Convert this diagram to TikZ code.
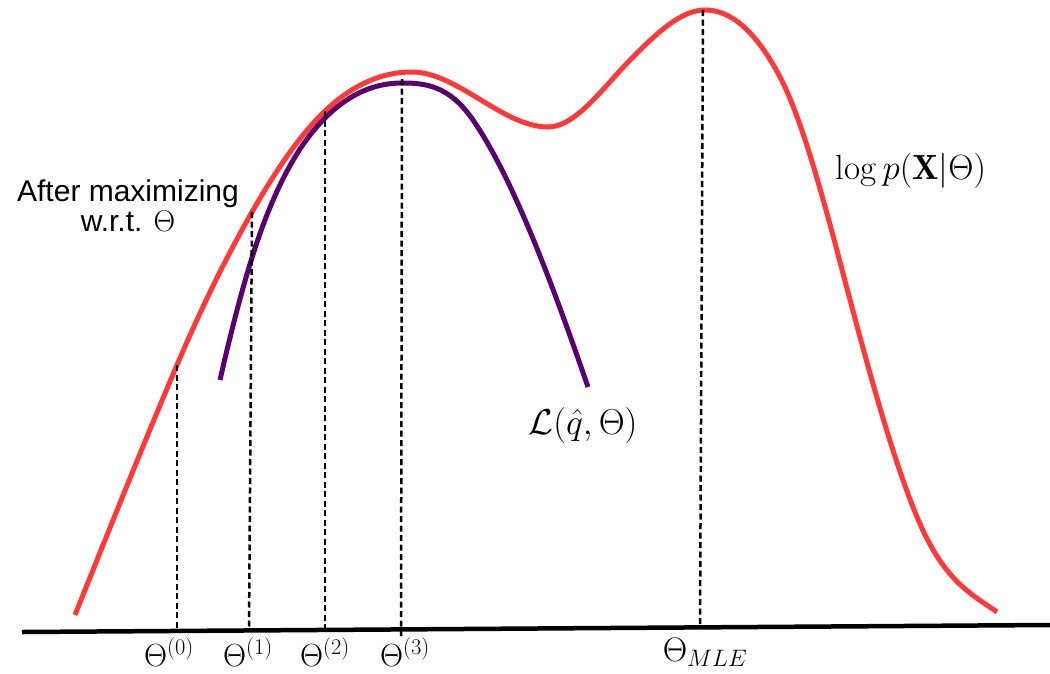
\RequirePackage{fix-cm}
\documentclass[tikz,border=0pt]{standalone}
\usepackage{fontspec}
\newfontfamily\arialfont{Liberation Sans}
\definecolor{curvered}{RGB}{255,56,56}
\definecolor{lbpurple}{RGB}{90,0,110}
\begin{document}
\begin{tikzpicture}[x=1pt,y=-1pt,
  logcurve/.style={draw=curvered,line width=5pt},
  boundcurve/.style={draw=lbpurple,line width=5pt},
  guide/.style={draw=black,line width=2.5pt,dash pattern=on 6pt off 3.5pt},
  axisline/.style={draw=black,line width=4.5pt},
  thetalabel/.style={inner sep=0pt,anchor=base,font=\fontsize{32}{36}\selectfont},
  curvelabel/.style={inner sep=0pt,anchor=base,font=\fontsize{35}{40}\selectfont},
  notelabel/.style={inner sep=0pt,anchor=north,align=center,font=\arialfont\fontsize{30}{30}\selectfont}]
\useasboundingbox (0,0) rectangle (1050,673);
\fill[white] (0,0) rectangle (1050,673);

% axis end points
\coordinate (axL) at (22,632);
\coordinate (axR) at (1050,625);

% guide line tops and bottoms
\coordinate (t0) at (177,365);  \coordinate (b0) at (177,631);
\coordinate (t1) at (252,212);  \coordinate (b1) at (249,630.4);
\coordinate (t2) at (325,111);  \coordinate (b2) at (325,629.9);
\coordinate (t3) at (402,79);   \coordinate (b3) at (401,636);
\coordinate (tM) at (703,10);   \coordinate (bM) at (700,627.4);

% log-likelihood curve
\draw[logcurve] (75,615)
  .. controls (109,530) and (143,444.9) .. (t0)
  .. controls (202,306.25) and (227,255.75) .. (t1)
  .. controls (276.33,169.42) and (300.67,134.1) .. (t2)
  .. controls (354,83.45) and (383,72) .. (412,72)
  .. controls (457.33,72) and (502.67,127) .. (548,127)
  .. controls (576.33,127) and (604.67,85.33) .. (633,57)
  .. controls (657,33) and (681,10) .. (705,10)
  .. controls (730,10) and (755,29.5) .. (780,77)
  .. controls (800,115) and (820,186) .. (840,262)
  .. controls (865.67,359.5) and (891.33,455.4) .. (917,517)
  .. controls (943.67,581) and (970.33,593.33) .. (997,612);

% lower bound curve
\draw[boundcurve] (220,380)
  .. controls (235,314) and (250,259) .. (265,220)
  .. controls (285,168) and (305,138) .. (325,118)
  .. controls (350.67,92.33) and (376.33,83) .. (402,83)
  .. controls (425.67,83) and (449.33,85.68) .. (473,120)
  .. controls (511.33,175.58) and (549.67,275.8) .. (588,387);

% guide lines
\draw[guide] (t0) -- (b0);
\draw[guide] (t1) -- (b1);
\draw[guide] (t2) -- (b2);
\draw[guide] (t3) -- (b3);
\draw[guide] (tM) -- (bM);

% axis
\draw[axisline] (axL) -- (axR);

% labels
\node[thetalabel] (th0) at (169,666) {$\Theta^{(0)}$};
\node[thetalabel] (th1) at (248,666) {$\Theta^{(1)}$};
\node[thetalabel] (th2) at (325,666) {$\Theta^{(2)}$};
\node[thetalabel] (th3) at (405,666) {$\Theta^{(3)}$};
\node[thetalabel,font=\fontsize{34}{38}\selectfont] (thM) at (705,661) {$\Theta_{MLE}$};

\node[curvelabel] (loglab) at (911,179) {$\log p(\mathbf{X}|\Theta)$};
\node[curvelabel,font=\fontsize{36}{40}\selectfont] (lblab) at (583,434) {$\mathcal{L}(\hat{q},\Theta)$};

\node[notelabel] (note) at (128,180) {After maximizing\\w.r.t. $\Theta$};
\end{tikzpicture}
\end{document}
